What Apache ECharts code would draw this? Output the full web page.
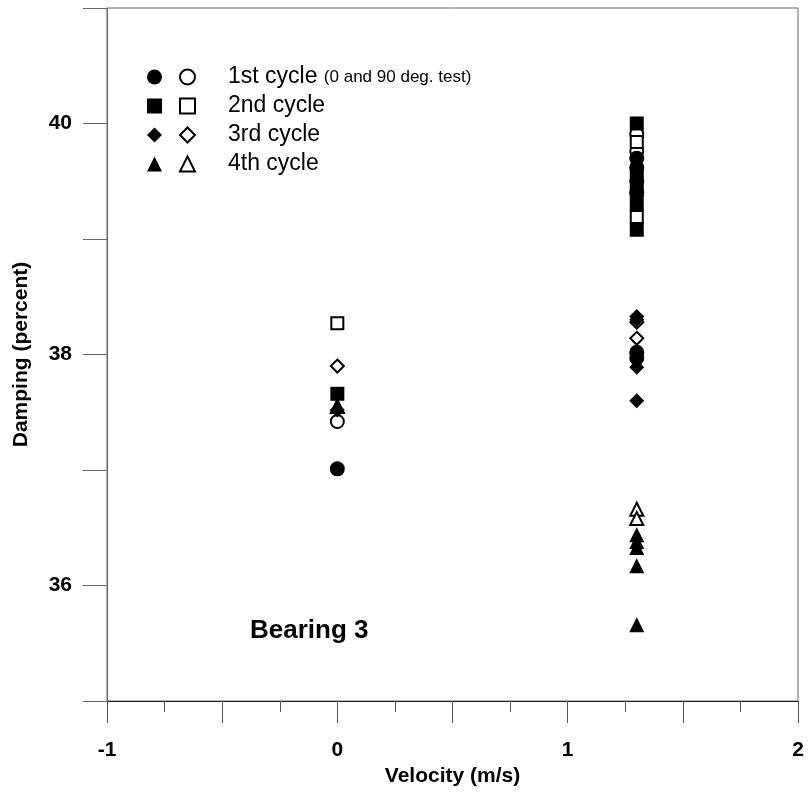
<!DOCTYPE html>
<html>
<head>
<meta charset="utf-8">
<script src="https://cdn.jsdelivr.net/npm/echarts@6/dist/echarts.min.js"></script>
<style>
html,body{margin:0;padding:0;background:#fff;}
#c{width:809px;height:794px;}
</style>
</head>
<body>
<div id="c"></div>
<script>
// ---- data (velocity m/s, damping %) ----
var cycleNames = ['1st cycle', '2nd cycle', '3rd cycle', '4th cycle'];
var cycleSymbols = ['circle', 'rect', 'diamond', 'triangle'];
var xTickLabels = ['-1', '0', '1', '2'];
var yTickLabels = ['36', '38', '40'];

var filled1 = [[0, 37.01], [1.3, 39.70], [1.3, 39.62], [1.3, 39.50], [1.3, 39.40], [1.3, 38.02], [1.3, 37.97]];
var open1   = [[0, 37.42], [1.3, 39.91], [1.3, 39.76]];
var filled2 = [[0, 37.66], [1.3, 40.00], [1.3, 39.55], [1.3, 39.42], [1.3, 39.30], [1.3, 39.08]];
var open2   = [[0, 38.27], [1.3, 39.84], [1.3, 39.19]];
var filled3 = [[0, 37.52], [1.3, 38.33], [1.3, 38.30], [1.3, 38.00], [1.3, 37.89], [1.3, 37.60]];
var open3   = [[0, 37.90], [1.3, 38.28], [1.3, 38.14]];
var filled4 = [[0, 37.56], [1.3, 36.44], [1.3, 36.38], [1.3, 36.33], [1.3, 36.17], [1.3, 35.66]];
var open4   = [[0, 37.55], [1.3, 36.66], [1.3, 36.58]];

var filledSets = [filled1, filled2, filled3, filled4];
var openSets = [open1, open2, open3, open4];

var FONT = '"Liberation Sans", Arial, sans-serif';
var series = [];
for (var i = 0; i < 4; i++) {
  series.push({
    name: cycleNames[i] + ' filled',
    type: 'scatter',
    symbol: cycleSymbols[i],
    symbolSize: cycleSymbols[i] === 'rect' ? 14 : 15,
    itemStyle: { color: '#000', opacity: 1 },
    data: filledSets[i],
    z: 3
  });
  series.push({
    name: cycleNames[i],
    type: 'scatter',
    symbol: cycleSymbols[i],
    symbolSize: cycleSymbols[i] === 'rect' ? 12 : 13,
    itemStyle: { color: '#fff', borderColor: '#000', borderWidth: 2, opacity: 1 },
    data: openSets[i],
    z: 2
  });
}

var legends = cycleNames.map(function (n, i) {
  return {
    data: [n + ' filled', n],
    orient: 'horizontal', left: 142, top: 60 + i * 29,
    itemWidth: 15, itemHeight: 15, itemGap: 12,
    selectedMode: false,
    formatter: function (name) {
      if (/ filled$/.test(name)) return '';
      return name === '1st cycle' ? name + ' {s|(0 and 90 deg. test)}' : name;
    },
    textStyle: {
      fontFamily: FONT, fontSize: 23, color: '#000', padding: [0, 0, 0, 28], lineHeight: 24,
      rich: { s: { fontFamily: FONT, fontSize: 17, color: '#000', lineHeight: 24 } }
    }
  };
});

var chart = echarts.init(document.getElementById('c'), null, { renderer: 'canvas' });
chart.setOption({
  animation: false,
  backgroundColor: '#fff',
  grid: { left: 107, right: 11, top: 8, bottom: 93, show: true, borderColor: '#666', borderWidth: 1 },
  xAxis: {
    type: 'value', min: -1, max: 2, interval: 0.5,
    name: 'Velocity (m/s)', nameLocation: 'middle', nameGap: 61,
    nameTextStyle: { fontFamily: FONT, fontWeight: 'bold', fontSize: 21, color: '#000' },
    axisLine: { show: true, onZero: false, lineStyle: { color: '#222', width: 1 } },
    axisTick: { show: true, inside: false, length: 22, lineStyle: { color: '#555' } },
    minorTick: { show: true, splitNumber: 2, length: 11, lineStyle: { color: '#555' } },
    splitLine: { show: false },
    axisLabel: {
      fontFamily: FONT, fontWeight: 'bold', fontSize: 21, color: '#000', margin: 39,
      formatter: function (v) { return xTickLabels.indexOf(String(v)) >= 0 ? String(v) : ''; }
    }
  },
  yAxis: {
    type: 'value', min: 35, max: 41, interval: 1,
    name: 'Damping (percent)', nameLocation: 'middle', nameGap: 75,
    nameTextStyle: { fontFamily: FONT, fontWeight: 'bold', fontSize: 21, color: '#000' },
    axisLine: { show: true, onZero: false, lineStyle: { color: '#666', width: 1 } },
    axisTick: { show: true, inside: false, length: 24, lineStyle: { color: '#666' } },
    splitLine: { show: false },
    axisLabel: {
      fontFamily: FONT, fontWeight: 'bold', fontSize: 21, color: '#000', margin: 35,
      formatter: function (v) { return yTickLabels.indexOf(String(v)) >= 0 ? String(v) : ''; }
    }
  },
  legend: legends,
  graphic: [
    { type: 'text', left: 250, top: 618, style: { text: 'Bearing 3', fontFamily: FONT, fontWeight: 'bold', fontSize: 26, fill: '#000' } }
  ],
  series: series
});
</script>
</body>
</html>
